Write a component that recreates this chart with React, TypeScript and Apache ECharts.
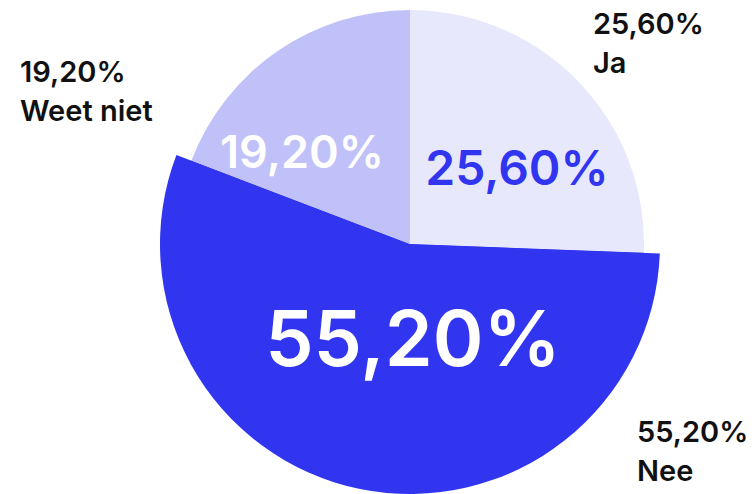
import React, { useEffect, useRef } from 'react';
import * as echarts from 'echarts';

// Data
const categories: string[] = ['Ja', 'Nee', 'Weet niet'];
const values: number[] = [25.6, 55.2, 19.2];

// Styles
const sliceColors = ['#e8e8fd', '#3235f0', '#c0c1f8'];
const innerLabelColors = ['#3235f0', '#ffffff', '#ffffff'];
const innerLabelSizes = [48, 77, 45];
const innerLabelPos = [[517, 167], [413, 338], [302, 151]];
const outerLabelPos = [[593, 43], [637, 451], [20, 91]];
const FONT = 'Inter, "Noto Sans", sans-serif';

const fmt = (v: number) => v.toFixed(2).replace('.', ',') + '%';

export default function App() {
  const ref = useRef<HTMLDivElement>(null);
  useEffect(() => {
    if (!ref.current) return;
    const chart = echarts.init(ref.current, undefined, { renderer: 'svg' });

    const outerData = categories.map((name, i) => ({
      name,
      value: values[i],
      itemStyle: { color: name === 'Nee' ? sliceColors[i] : 'rgba(0,0,0,0)' },
    }));
    const innerData = categories.map((name, i) => ({
      name,
      value: values[i],
      itemStyle: { color: sliceColors[i] },
      label: { color: innerLabelColors[i], fontSize: innerLabelSizes[i] },
    }));

    chart.setOption({
      animation: false,
      series: [
        {
          type: 'pie',
          center: [410, 244],
          radius: [0, 250],
          startAngle: 90,
          clockwise: true,
          avoidLabelOverlap: false,
          silent: true,
          itemStyle: { borderWidth: 0 },
          data: outerData,
          label: {
            show: true,
            position: 'outside',
            formatter: (p: any) => fmt(p.value) + '\n' + p.name,
            fontFamily: FONT,
            fontSize: 29,
            lineHeight: 39,
            fontWeight: 600,
            color: '#111111',
          },
          labelLine: { show: false },
          labelLayout: (params: any) => {
            const pos = outerLabelPos[params.dataIndex];
            return { x: pos[0], y: pos[1], align: 'left', verticalAlign: 'middle', hideOverlap: false };
          },
        },
        {
          type: 'pie',
          center: [410, 244],
          radius: [0, 234],
          startAngle: 90,
          clockwise: true,
          avoidLabelOverlap: false,
          silent: true,
          itemStyle: { borderWidth: 0 },
          data: innerData,
          label: {
            show: true,
            position: 'inside',
            formatter: (p: any) => fmt(p.value),
            fontFamily: FONT,
            fontWeight: 600,
          },
          labelLine: { show: false },
          labelLayout: (params: any) => {
            const pos = innerLabelPos[params.dataIndex];
            return { x: pos[0], y: pos[1], align: 'center', verticalAlign: 'middle', hideOverlap: false };
          },
        },
      ],
    });
    return () => chart.dispose();
  }, []);
  return (
    <div
      ref={ref}
      style={{ position: 'absolute', left: 0, top: 0, width: 756, height: 494, background: '#ffffff' }}
    />
  );
}
